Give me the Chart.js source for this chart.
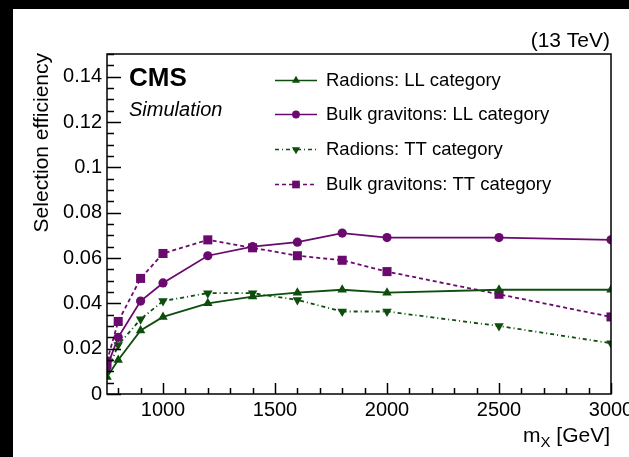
<!DOCTYPE html>
<html><head><meta charset="utf-8">
<script src="https://cdn.jsdelivr.net/npm/chart.js@4.4.1/dist/chart.umd.min.js"></script>
<style>html,body{margin:0;padding:0;background:#fff;}#wrap{width:629px;height:457px;position:relative;}</style>
</head><body><div id="wrap"><canvas id="c" width="629" height="457"></canvas></div>
<script>
const masses = [750, 800, 900, 1000, 1200, 1400, 1600, 1800, 2000, 2500, 3000];
const radionsLL = [0.0075, 0.015, 0.028, 0.034, 0.040, 0.043, 0.0447, 0.046, 0.0447, 0.046, 0.046];
const gravitonsLL = [0.012, 0.025, 0.041, 0.049, 0.061, 0.065, 0.067, 0.071, 0.069, 0.069, 0.068];
const radionsTT = [0.0095, 0.0216, 0.033, 0.041, 0.0445, 0.0445, 0.0415, 0.0364, 0.0364, 0.030, 0.0224];
const gravitonsTT = [0.0145, 0.032, 0.051, 0.062, 0.068, 0.0645, 0.061, 0.059, 0.054, 0.044, 0.034];
const seriesNames = ["Radions: LL category", "Bulk gravitons: LL category", "Radions: TT category", "Bulk gravitons: TT category"];
const xMajorTicks = [1000, 1500, 2000, 2500, 3000];
const yMajorTicks = [0, 0.02, 0.04, 0.06, 0.08, 0.1, 0.12, 0.14];

const GREEN = '#0d4d0d';
const PURPLE = '#6a0a6e';
const FONT = '"Liberation Sans", Arial, Helvetica, sans-serif';

function pts(vals){ return masses.map((m,i)=>({x:m, y:vals[i]})); }

const datasets = [
  {label: seriesNames[0], data: pts(radionsLL), borderColor: GREEN, pointStyle:'triangle', pointRadius:5.5, pointRotation:0, borderWidth:1.8, borderDash:[]},
  {label: seriesNames[1], data: pts(gravitonsLL), borderColor: PURPLE, pointStyle:'circle', pointRadius:4.6, pointRotation:0, borderWidth:1.8, borderDash:[]},
  {label: seriesNames[2], data: pts(radionsTT), borderColor: GREEN, pointStyle:'triangle', pointRadius:5.5, pointRotation:180, borderWidth:1.8, borderDash:[4,3,1,3]},
  {label: seriesNames[3], data: pts(gravitonsTT), borderColor: PURPLE, pointStyle:'rect', pointRadius:6.4, pointRotation:0, borderWidth:1.8, borderDash:[4,3]},
];
datasets.forEach(d=>{ d.backgroundColor=d.borderColor; d.pointBorderWidth=0; d.pointBorderColor=d.borderColor; d.pointBackgroundColor=d.borderColor; d.tension=0; d.fill=false; d.pointHoverRadius=d.pointRadius; });

const decor = {
  id:'decor',
  afterDraw(chart){
    const ctx = chart.ctx, a = chart.chartArea;
    const xs = chart.scales.x, ys = chart.scales.y;
    ctx.save();
    ctx.strokeStyle='#000'; ctx.lineWidth=1.5; ctx.setLineDash([]);
    ctx.strokeRect(a.left, a.top, a.right-a.left, a.bottom-a.top);
    for(let k=0; k<=30; k++){
      const vv = k*0.005;
      const major = k%4===0;
      const p = Math.round(ys.getPixelForValue(vv))+0.5;
      ctx.beginPath(); ctx.moveTo(a.left, p); ctx.lineTo(a.left + (major?14:7), p); ctx.stroke();
    }
    for(let v=800; v<=3000; v+=100){
      const major = v%500===0;
      const p = Math.round(xs.getPixelForValue(v))+0.5;
      ctx.beginPath(); ctx.moveTo(p, a.bottom); ctx.lineTo(p, a.bottom - (major?11:6)); ctx.stroke();
    }
    ctx.fillStyle='#000';
    ctx.font = 'bold 26px '+FONT; ctx.textAlign='left'; ctx.textBaseline='alphabetic';
    ctx.fillText('CMS', 129, 86);
    ctx.font = 'italic 20px '+FONT;
    ctx.fillText('Simulation', 129, 116);
    ctx.font = '21px '+FONT; ctx.textAlign='right';
    ctx.fillText('(13 TeV)', 610, 47);
    ctx.textAlign='left';
    const t1='m', t2='X', t3=' [GeV]';
    ctx.font='21px '+FONT; const w1=ctx.measureText(t1).width, w3=ctx.measureText(t3).width;
    ctx.font='15px '+FONT; const w2=ctx.measureText(t2).width;
    let x0 = 610 - (w1+w2+w3);
    ctx.font='21px '+FONT; ctx.fillText(t1, x0, 442);
    ctx.font='15px '+FONT; ctx.fillText(t2, x0+w1, 447);
    ctx.font='21px '+FONT; ctx.fillText(t3, x0+w1+w2, 442);
    ctx.save(); ctx.translate(48, 53); ctx.rotate(-Math.PI/2);
    ctx.font='21px '+FONT; ctx.textAlign='right'; ctx.fillText('Selection efficiency', 0, 0);
    ctx.restore();
    const rows=[80,114,149,184];
    chart.data.datasets.forEach((d,i)=>{
      const y=rows[i];
      ctx.strokeStyle=d.borderColor; ctx.lineWidth=1.6; ctx.setLineDash(d.borderDash);
      ctx.beginPath(); ctx.moveTo(275,y+0.5); ctx.lineTo(317,y+0.5); ctx.stroke();
      ctx.setLineDash([]);
      ctx.fillStyle=d.borderColor;
      Chart.helpers.drawPoint(ctx,{pointStyle:d.pointStyle, rotation:d.pointRotation, borderWidth:0, radius:d.pointRadius*0.85}, 296, y+0.5);
      ctx.fillStyle='#000'; ctx.font='18.5px '+FONT; ctx.textAlign='left'; ctx.textBaseline='middle';
      ctx.fillText(d.label, 326, y+1);
      ctx.textBaseline='alphabetic';
    });
    ctx.fillStyle='#000';
    ctx.fillRect(0,0,629,9); ctx.fillRect(0,0,13,457);
    ctx.restore();
  }
};

new Chart(document.getElementById('c'), {
  type:'line',
  data:{datasets},
  options:{
    responsive:false, animation:false, devicePixelRatio:1,
    layout:{padding:{top:54, right:18, left:0, bottom:0}},
    plugins:{legend:{display:false}, tooltip:{enabled:false}},
    elements:{line:{borderCapStyle:'butt'}},
    scales:{
      x:{type:'linear', min:750, max:3000,
        grid:{display:false, drawTicks:false}, border:{display:false},
        afterBuildTicks(s){ s.ticks = xMajorTicks.map(v=>({value:v})); },
        ticks:{color:'#000', font:{family:FONT, size:20}, padding:4, maxRotation:0, autoSkip:false, callback:(v)=>String(v)},
        afterFit(s){ s.height = 63; s.paddingLeft=0; s.paddingRight=0; }
      },
      y:{type:'linear', min:0, max:0.15,
        grid:{display:false, drawTicks:false}, border:{display:false},
        afterBuildTicks(s){ s.ticks = yMajorTicks.map(v=>({value:v})); },
        ticks:{color:'#000', font:{family:FONT, size:20}, padding:5, autoSkip:false, callback:(v)=>String(Math.round(v*100)/100)},
        afterFit(s){ s.width = 107; s.paddingTop=0; s.paddingBottom=0; }
      }
    }
  },
  plugins:[decor]
});
</script></body></html>
